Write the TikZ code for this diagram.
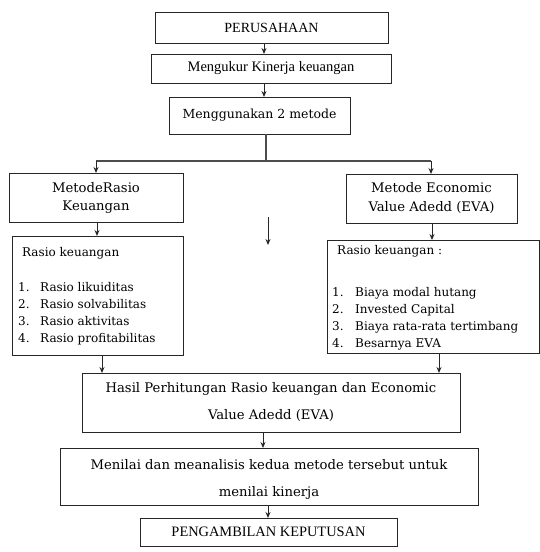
\documentclass[tikz,border=0pt]{standalone}
\usepackage{fontspec}
\setmainfont{DejaVu Serif}
\newfontfamily\tms{Liberation Serif}
\usetikzlibrary{arrows.meta}
\begin{document}
\begin{tikzpicture}[x=1pt,y=-1pt,
  box/.style={draw=black!85,line width=1pt,rectangle,inner sep=0pt,outer sep=0pt,align=center},
  arr/.style={draw=black!85,line width=1pt,-{Stealth[length=6pt,width=5pt]}},
  ln/.style={draw=black!70,line width=1.2pt},
  itm/.style={anchor=base west,inner sep=0pt,font=\fontsize{12}{14}\selectfont}]
\useasboundingbox (0,0) rectangle (540,552);
% boxes
\node[box,minimum width=233pt,minimum height=31pt,font=\tms\fontsize{14}{16}\selectfont] (per) at (271.5,27.5) {PERUSAHAAN};
\node[box,minimum width=240pt,minimum height=29pt,font=\tms\fontsize{14.5}{16}\selectfont] (meng) at (271,68.5) {Mengukur Kinerja keuangan};
\node[box,minimum width=181pt,minimum height=37pt,font=\fontsize{12.5}{15}\selectfont] (dua) at (259.5,115.5) {Menggunakan 2 metode};
\node[box,minimum width=174pt,minimum height=49pt,font=\fontsize{13.2}{18}\selectfont] (mrasio) at (96,197.5) {MetodeRasio\\Keuangan};
\node[box,minimum width=171pt,minimum height=49pt,font=\fontsize{13.2}{19}\selectfont] (meva) at (431.5,198.5) {Metode Economic\\Value Adedd (EVA)};
\node[box,minimum width=171pt,minimum height=119pt] (lrasio) at (97.5,295.5) {};
\node[box,minimum width=212pt,minimum height=113pt] (leva) at (433,296.5) {};
\node[box,minimum width=378pt,minimum height=59pt,font=\fontsize{13.2}{27}\selectfont] (hasil) at (271,402.5) {Hasil Perhitungan Rasio keuangan dan Economic\\Value Adedd (EVA)};
\node[box,minimum width=418pt,minimum height=57pt] (menilai) at (269,476.5) {};
\node[inner sep=0pt,align=center,font=\fontsize{13.2}{27}\selectfont] (mtext) at (269,479.5) {Menilai dan meanalisis kedua metode tersebut untuk\\menilai kinerja};
\node[box,minimum width=257pt,minimum height=28pt,font=\tms\fontsize{14.4}{16}\selectfont] (peng) at (268.5,532) {PENGAMBILAN KEPUTUSAN};
% list texts
\node[itm] (lh) at (22,256) {Rasio keuangan};
\node[itm] (l1n) at (18,291) {1.};\node[itm] (l1) at (40,291) {Rasio likuiditas};
\node[itm] (l2n) at (18,308) {2.};\node[itm] (l2) at (40,308) {Rasio solvabilitas};
\node[itm] (l3n) at (18,325) {3.};\node[itm] (l3) at (40,325) {Rasio aktivitas};
\node[itm] (l4n) at (18,342) {4.};\node[itm] (l4) at (40,342) {Rasio profitabilitas};
\node[itm] (rh) at (337,254) {Rasio keuangan :};
\node[itm] (r1n) at (332,296) {1.};\node[itm] (r1) at (355,296) {Biaya modal hutang};
\node[itm] (r2n) at (332,313) {2.};\node[itm] (r2) at (355,313) {Invested Capital};
\node[itm] (r3n) at (332,330) {3.};\node[itm] (r3) at (355,330) {Biaya rata-rata tertimbang};
\node[itm] (r4n) at (332,347) {4.};\node[itm] (r4) at (355,347) {Besarnya EVA};
% coordinates for connector columns
\coordinate (c1) at (264,0);
\coordinate (c2) at (266,161);
\coordinate (jl) at (96,161);
\coordinate (jr) at (431,161);
\coordinate (cl) at (97,0);
\coordinate (cr) at (432,0);
\coordinate (cl2) at (102,0);
\coordinate (cr2) at (439,0);
\coordinate (cm) at (263,0);
\coordinate (cm2) at (268,0);
\coordinate (s1) at (268,217);
\coordinate (s2) at (268,245);
% connectors
\draw[arr] (per.south -| c1) -- (meng.north -| c1);
\draw[arr] (meng.south -| c1) -- (dua.north -| c1);
\draw[ln] (dua.south -| c2) -- (c2);
\draw[ln] (jl) -- (jr);
\draw[arr] (jl) -- (mrasio.north -| jl);
\draw[arr] (jr) -- (meva.north -| jr);
\draw[arr] (mrasio.south -| cl) -- (lrasio.north -| cl);
\draw[arr] (meva.south -| cr) -- (leva.north -| cr);
\draw[arr] (s1) -- (s2);
\draw[arr] (lrasio.south -| cl2) -- (hasil.north -| cl2);
\draw[arr] (leva.south -| cr2) -- (hasil.north -| cr2);
\draw[arr] (hasil.south -| cm) -- (menilai.north -| cm);
\draw[arr] (menilai.south -| cm2) -- (peng.north -| cm2);
\end{tikzpicture}
\end{document}
